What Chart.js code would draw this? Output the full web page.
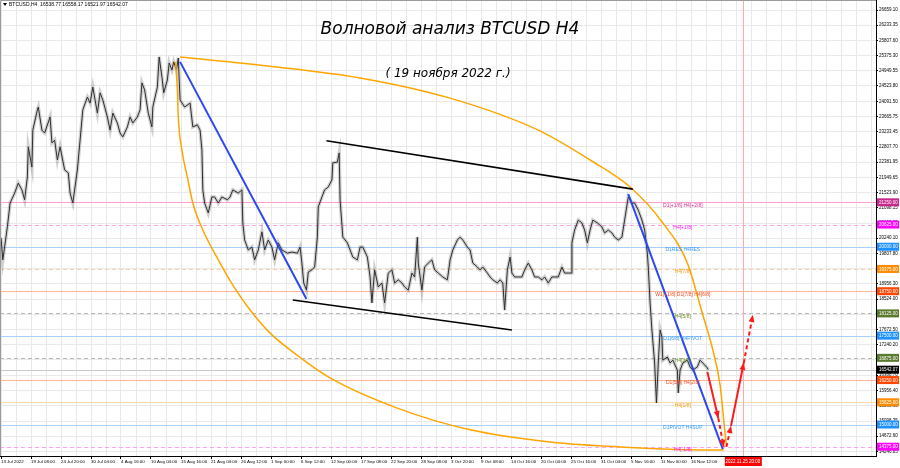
<!DOCTYPE html>
<html lang="ru">
<head>
<meta charset="utf-8">
<title>Волновой анализ BTCUSD H4</title>
<script src="https://cdn.jsdelivr.net/npm/chart.js@4.4.1/dist/chart.umd.min.js"></script>
<style>
  html, body { margin: 0; padding: 0; background: #fff; }
  canvas { display: block; }
</style>
</head>
<body>
<canvas id="btcChart" width="900" height="468"></canvas>
<script>
/*
 * BTCUSD H4 wave analysis, redrawn with Chart.js.
 * x = H4 bar number counted from 13 Jul 2022 00:00, y = price.
 */

/* -------------------------------
   Data
--------------------------------*/
const symbolName = "BTCUSD,H4";
const ohlc = [16538.77, 16558.17, 16521.97, 16542.07];
const lastPrice = 16542.07;

const titleText = "Волновой анализ BTCUSD H4";
const subtitleText = "( 19 ноября 2022 г.)";

// one time label every 33 bars
const timeLabels = [
  "13 Jul 2022", "19 Jul 08:00", "24 Jul 20:00", "30 Jul 04:00", "4 Aug 16:00",
  "10 Aug 04:00", "15 Aug 16:00", "21 Aug 04:00", "26 Aug 12:00", "1 Sep 00:00",
  "6 Sep 12:00", "12 Sep 00:00", "17 Sep 08:00", "22 Sep 20:00", "28 Sep 08:00",
  "3 Oct 20:00", "9 Oct 08:00", "14 Oct 16:00", "20 Oct 04:00", "25 Oct 16:00",
  "31 Oct 04:00", "5 Nov 16:00", "11 Nov 00:00", "16 Nov 12:00"
];
const barsPerLabel = 33;

const priceTicks = [
  26659.10, 26233.35, 25807.60, 25375.30, 24949.55, 24523.80, 24091.50, 23665.75,
  23233.45, 22807.70, 22381.95, 21949.65, 21523.90, 21098.15, 20665.85, 20240.10,
  19807.80, 19382.05, 18956.30, 18524.00, 18098.25, 17672.50, 17240.20, 16814.45,
  16388.70, 15956.40, 15530.65, 15098.35, 14672.60, 14246.85
];

// price path
const priceBars = [
  0, 2, 7, 10, 15, 19, 23, 26, 29, 30, 34, 35, 40, 41, 45, 48, 54, 56, 59, 62,
  65, 70, 74, 76, 79, 81, 84, 87, 90, 95, 98, 101, 106, 109, 112, 117, 120, 123, 128, 131,
  134, 139, 142, 145, 150, 153, 155, 158, 162, 166, 167, 172, 174, 177, 179, 183, 185, 188, 190, 193,
  195, 197, 202, 208, 211, 216, 219, 221, 222, 224, 228, 232, 235, 239, 243, 249, 252, 255, 261, 265,
  266, 268, 272, 276, 279, 283, 287, 290, 294, 298, 301, 305, 309, 315, 320, 326, 329, 331, 333, 336,
  338, 342, 345, 348, 349, 353, 356, 360, 364, 365, 370, 372, 373, 376, 381, 384, 387, 392, 395, 398,
  403, 406, 408, 411, 415, 419, 422, 426, 430, 433, 437, 441, 444, 448, 452, 455, 458, 459, 463, 466,
  470, 474, 477, 481, 486, 491, 494, 497, 502, 505, 508, 513, 516, 519, 524, 527, 530, 535, 538, 541,
  546, 549, 552, 554, 557, 560, 562, 565, 569, 573, 576, 580, 584, 587, 591, 595, 598, 602, 606, 609,
  613, 617, 620, 624, 627, 628, 631, 635, 639, 642, 645, 648, 651, 656, 661, 664, 668, 672, 675, 679,
  683, 686, 690, 694, 697, 701, 705, 708, 711, 712, 714, 716, 719, 721, 723, 725, 727, 728, 733, 736,
  739, 744, 745, 747, 750, 755, 758, 761, 766, 769, 772, 777, 778
];
const priceClose = [
  20250, 19630, 20560, 21230, 21510, 21790, 21600, 21320, 21960, 22810, 22240, 23280, 23850, 23930, 23280, 23200, 23650, 22920, 23000, 22440,
  22810, 22160, 22080, 21510, 21230, 21600, 22160, 23000, 23850, 24210, 24040, 24490, 23760, 24330, 24130, 23650, 23280, 23760, 23480, 23200,
  23090, 23370, 23650, 23480, 23650, 23850, 24610, 24410, 23760, 23370, 23930, 24490, 25340, 24780, 24330, 24690, 25170, 24970, 25200, 24970,
  25310, 24130, 23930, 24040, 23370, 23430, 23280, 22720, 21600, 21230, 20950, 21400, 21400, 21230, 21400, 21320, 21400, 21600, 21510, 21600,
  20670, 20190, 19910, 19990, 19630, 19910, 20420, 19910, 20190, 19990, 19630, 20110, 19910, 19820, 19850, 19820, 19990, 19540, 18980, 18780,
  19290, 19350, 19430, 20270, 21120, 21400, 21600, 21680, 21880, 22360, 22380, 22640, 21320, 20270, 20110, 19910, 19710, 19630, 19990, 19990,
  19710, 19150, 18420, 19350, 18870, 18980, 18420, 19260, 19350, 18980, 19070, 18980, 18870, 18780, 19260, 19150, 20270, 19540, 18780, 19430,
  19540, 19630, 19350, 19260, 19150, 19070, 19630, 19910, 20190, 20270, 20190, 19990, 19910, 19540, 19430, 19350, 19430, 19260, 19150, 19070,
  18980, 19070, 18980, 18220, 19350, 19710, 19260, 19150, 19150, 19150, 19350, 19540, 19350, 19150, 19150, 19070, 19150, 18980, 19150, 19150,
  19150, 19430, 19260, 19260, 19260, 20110, 20470, 20750, 20670, 20470, 20110, 20470, 20750, 20670, 20560, 20390, 20470, 20390, 20270, 20190,
  20270, 20750, 21400, 21230, 21230, 21030, 20750, 20470, 19820, 19430, 18420, 17660, 16730, 15610, 16730, 17660, 17460, 16810, 16900, 16730,
  16810, 16530, 15890, 16530, 16730, 16810, 16620, 16530, 16620, 16810, 16730, 16590, 16542.07
];

// Murrey / pivot levels
const levelPrices = [21250, 20625, 20000, 19375, 18750, 18125, 17500, 16875, 16250, 15625, 15000, 14375];
const levelNames = [
  "D1[+1/8] H4[+2/8]", "H4[+1/8]", "D1RES H4RES", "H4[7/8]", "W1[+1/8] D1[7/8] H4[6/8]", "H4[5/8]",
  "D1[6/8] H4PIVOT", "H4[3/8]", "D1[5/8] H4[2/8]", "H4[1/8]", "D1PIVOT H4SUP", "H4[-1/8]"
];

// drawn objects, as [bar, price] pairs
const channelUpper = [[358, 22980], [695, 21620]];
const channelLower = [[321, 18500], [562, 17660]];
const waveA = [[197, 25200], [336, 18530]];
const waveC = [[690, 21480], [794, 14310]];
const arcUpper = [
  [197, 25340], [296, 25080], [395, 24750], [494, 24180], [591, 23280], [648, 22440],
  [692, 21680], [728, 20670], [755, 19540], [772, 18080], [783, 17100], [791, 16110],
  [795, 15130], [798, 14370]
];
const arcLower = [
  [192, 25200], [194, 24410], [195, 23650], [199, 22720], [205, 21960], [211, 21230],
  [222, 20470], [238, 19680], [255, 18920], [274, 18220], [296, 17570], [318, 17100],
  [362, 16310], [436, 15460], [516, 14850], [604, 14510], [681, 14370], [791, 14280], [795, 14280]
];
const forecastDown = [[777, 16480], [789, 15180]];
const forecastDownEnd = [[789, 15180], [795, 14370]];
const forecastUpStart = [[798, 14370], [803, 14960]];
const forecastUp = [[803, 14960], [817, 16730]];
const forecastUpEnd = [[817, 16730], [827, 18080]];

const markerBar = 816;
const markerLabel = "2022.11.25 20:00";

/* -------------------------------
   Styles
--------------------------------*/
const FONT = '"Liberation Sans", Arial, sans-serif';
const levelStyles = [
  { line: "#ff9fcf", dash: false, text: "#e0309a", box: "#c8288c" },
  { line: "#ffa0f0", dash: true,  text: "#ff20ff", box: "#ff00ff" },
  { line: "#a9d0ff", dash: false, text: "#3399ff", box: "#1e90ff" },
  { line: "#f5d3a8", dash: true,  text: "#ff9900", box: "#ff8c00" },
  { line: "#ffb39c", dash: false, text: "#ff4a1a", box: "#ff4500" },
  { line: "#b8b8b8", dash: true,  text: "#6b8e23", box: "#5a7a2e" },
  { line: "#a9d0ff", dash: false, text: "#3399ff", box: "#1e90ff" },
  { line: "#b8b8b8", dash: true,  text: "#6b8e23", box: "#5a7a2e" },
  { line: "#ffb39c", dash: false, text: "#ff4a1a", box: "#ff4500" },
  { line: "#ffd9a3", dash: false, text: "#ff9900", box: "#ff8c00" },
  { line: "#a9d0ff", dash: false, text: "#3399ff", box: "#1e90ff" },
  { line: "#ffa0f0", dash: true,  text: "#ff20ff", box: "#ff00ff" }
];

const toPoints = pairs => pairs.map(([x, y]) => ({ x, y }));

function lineSet(pairs, color, width, extra) {
  return Object.assign({
    data: toPoints(pairs),
    borderColor: color,
    backgroundColor: color,
    borderWidth: width,
    pointRadius: 0,
    fill: false,
    tension: 0
  }, extra || {});
}

// grid every half label step
const gridBars = [];
for (let b = 0; b <= 962; b += barsPerLabel / 2) gridBars.push(b);

const isLabelBar = v => Number.isInteger(v / barsPerLabel) && v / barsPerLabel < timeLabels.length;

/* -------------------------------
   Overlay plugin
--------------------------------*/
const overlay = {
  id: "overlay",
  beforeDatasetsDraw(chart) {
    const { ctx, chartArea: a, scales: { x, y } } = chart;
    ctx.save();
    ctx.lineWidth = 1;

    levelPrices.forEach((p, i) => {
      const st = levelStyles[i];
      const py = Math.round(y.getPixelForValue(p)) + 0.5;
      ctx.strokeStyle = st.line;
      ctx.setLineDash(st.dash ? [4, 3] : []);
      ctx.beginPath();
      ctx.moveTo(a.left, py);
      ctx.lineTo(a.right, py);
      ctx.stroke();
    });

    // bid line
    const by = Math.round(y.getPixelForValue(lastPrice)) + 0.5;
    ctx.setLineDash([]);
    ctx.strokeStyle = "#c8c8c8";
    ctx.beginPath();
    ctx.moveTo(a.left, by);
    ctx.lineTo(a.right, by);
    ctx.stroke();

    // future time marker
    const mx = Math.round(x.getPixelForValue(markerBar)) + 0.5;
    ctx.strokeStyle = "#ffaaaa";
    ctx.beginPath();
    ctx.moveTo(mx, a.top);
    ctx.lineTo(mx, a.bottom);
    ctx.stroke();
    ctx.restore();
  },

  afterDatasetsDraw(chart) {
    const { ctx } = chart;
    ctx.save();
    chart.data.datasets.forEach((ds, i) => {
      if (!ds.arrowHead) return;
      const pts = chart.getDatasetMeta(i).data;
      const p1 = pts[pts.length - 2];
      const p2 = pts[pts.length - 1];
      const ang = Math.atan2(p2.y - p1.y, p2.x - p1.x);
      const len = 7, half = 3;
      ctx.fillStyle = ds.borderColor;
      ctx.beginPath();
      ctx.moveTo(p2.x, p2.y);
      ctx.lineTo(p2.x - len * Math.cos(ang) + half * Math.sin(ang), p2.y - len * Math.sin(ang) - half * Math.cos(ang));
      ctx.lineTo(p2.x - len * Math.cos(ang) - half * Math.sin(ang), p2.y - len * Math.sin(ang) + half * Math.cos(ang));
      ctx.closePath();
      ctx.fill();
    });
    ctx.restore();
  },

  afterDraw(chart) {
    const { ctx, chartArea: a, scales: { x, y } } = chart;
    ctx.save();

    // level captions
    ctx.font = "5px " + FONT;
    ctx.textAlign = "center";
    ctx.textBaseline = "middle";
    const captionX = x.getPixelForValue(750);
    levelPrices.forEach((p, i) => {
      ctx.fillStyle = levelStyles[i].text;
      ctx.fillText(levelNames[i], captionX, y.getPixelForValue(p) + 3);
    });

    // price boxes on the right axis
    ctx.font = "4.5px " + FONT;
    ctx.textAlign = "left";
    const drawBox = (price, fill, text) => {
      const py = y.getPixelForValue(price);
      ctx.fillStyle = fill;
      ctx.fillRect(a.right + 1, py - 4, chart.width - a.right - 2, 8);
      ctx.fillStyle = "#fff";
      ctx.fillText(text, a.right + 3, py + 0.5);
    };
    levelPrices.forEach((p, i) => drawBox(p, levelStyles[i].box, p.toFixed(2)));
    drawBox(lastPrice, "#000", lastPrice.toFixed(2));

    // time marker box
    const mx = x.getPixelForValue(markerBar);
    ctx.fillStyle = "#ff0000";
    ctx.fillRect(mx - 18, a.bottom + 1, 37, 9);
    ctx.fillStyle = "#fff";
    ctx.textAlign = "center";
    ctx.fillText(markerLabel, mx, a.bottom + 6);

    // frame
    ctx.strokeStyle = "#9a9a9a";
    ctx.lineWidth = 1;
    ctx.beginPath();
    ctx.moveTo(a.left + 0.5, a.bottom);
    ctx.lineTo(a.left + 0.5, a.top + 0.5);
    ctx.lineTo(a.right, a.top + 0.5);
    ctx.stroke();

    // symbol header
    ctx.fillStyle = "#000";
    ctx.beginPath();
    ctx.moveTo(3, 3);
    ctx.lineTo(7, 3);
    ctx.lineTo(5, 6);
    ctx.closePath();
    ctx.fill();
    ctx.textAlign = "left";
    ctx.font = "5px " + FONT;
    ctx.fillText(symbolName + "  " + ohlc.map(v => v.toFixed(2)).join(" "), 9, 5);

    // titles
    ctx.textAlign = "center";
    ctx.font = 'italic 17px "DejaVu Sans", sans-serif';
    ctx.fillText(titleText, 450, 30);
    ctx.font = 'italic 12px "DejaVu Sans", sans-serif';
    ctx.fillText(subtitleText, 448, 74);
    ctx.restore();
  }
};

/* -------------------------------
   Chart
--------------------------------*/
const pricePoints = priceBars.map((b, i) => ({ x: b, y: priceClose[i] }));

new Chart(document.getElementById("btcChart"), {
  type: "line",
  data: {
    datasets: [
      lineSet(forecastDown, "#ff1a1a", 2, { arrowHead: true }),
      lineSet(forecastDownEnd, "#ff1a1a", 2, { borderDash: [4, 3], arrowHead: true }),
      lineSet(forecastUpStart, "#ff1a1a", 2, { borderDash: [4, 3], arrowHead: true }),
      lineSet(forecastUp, "#ff1a1a", 2, { arrowHead: true }),
      lineSet(forecastUpEnd, "#ff1a1a", 2, { borderDash: [4, 3], arrowHead: true }),
      lineSet(waveA, "#2b48f2", 2),
      lineSet(waveC, "#2b48f2", 2),
      lineSet(channelUpper, "#000000", 1.6),
      lineSet(channelLower, "#000000", 1.6),
      lineSet(arcUpper, "#ffa500", 1.5, { cubicInterpolationMode: "monotone" }),
      lineSet(arcLower, "#ffa500", 1.5, { cubicInterpolationMode: "monotone" }),
      {
        data: pricePoints,
        borderColor: "#2e2e2e",
        borderWidth: 1,
        pointRadius: 0,
        tension: 0
      },
      {
        data: pricePoints,
        borderColor: "rgba(70,70,70,0.25)",
        borderWidth: 3.5,
        pointRadius: 0,
        tension: 0
      }
    ]
  },
  options: {
    responsive: false,
    animation: false,
    layout: { padding: 0 },
    plugins: {
      legend: { display: false },
      tooltip: { enabled: false }
    },
    scales: {
      x: {
        type: "linear",
        position: "bottom",
        min: -1.1,
        max: 962.5,
        afterBuildTicks: scale => { scale.ticks = gridBars.map(v => ({ value: v })); },
        afterFit: scale => {
          scale.height = 12;
          scale.paddingLeft = 0;
          scale.paddingRight = 0;
        },
        ticks: {
          autoSkip: false,
          maxRotation: 0,
          minRotation: 0,
          align: "start",
          padding: 0,
          color: "#000",
          font: { size: 4.4, family: FONT },
          callback: value => (isLabelBar(value) ? timeLabels[value / barsPerLabel] : "")
        },
        grid: {
          color: "#e9e9e9",
          tickLength: 3,
          tickColor: c => (c.tick && isLabelBar(c.tick.value) ? "#000" : "rgba(0,0,0,0)")
        },
        border: { color: "#000" }
      },
      y: {
        type: "linear",
        position: "right",
        min: 14114,
        max: 26941,
        afterBuildTicks: scale => { scale.ticks = priceTicks.map(v => ({ value: v })); },
        afterFit: scale => {
          scale.width = 24;
          scale.paddingTop = 0;
          scale.paddingBottom = 0;
        },
        ticks: {
          padding: 1,
          color: "#000",
          font: { size: 4.5, family: FONT },
          callback: value => value.toFixed(2)
        },
        grid: { color: "#e9e9e9", tickLength: 2, tickColor: "#000" },
        border: { color: "#000" }
      }
    }
  },
  plugins: [overlay]
});
</script>
</body>
</html>
